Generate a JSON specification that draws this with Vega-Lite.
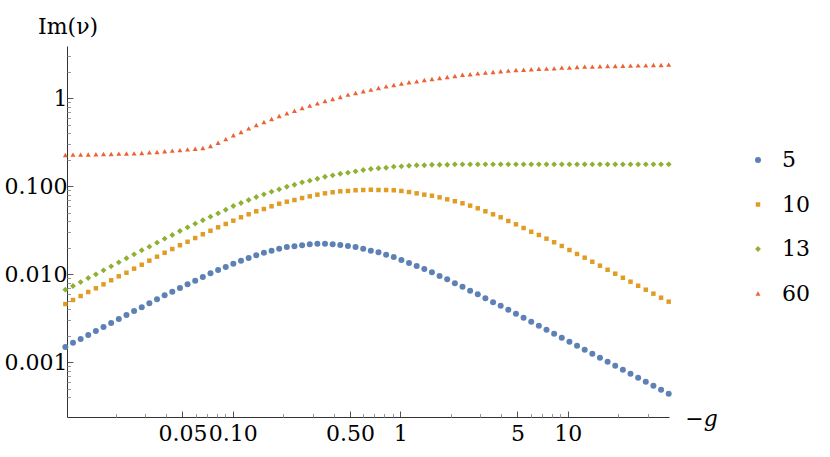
{
"$schema":"https://vega.github.io/schema/vega-lite/v6.json",
"width":602,"height":371,
"autosize":"none",
"padding":{"left":67,"top":46,"right":161,"bottom":40},
"background":"white",
"config":{"view":{"stroke":null},"font":"DejaVu Serif"},
"title":{"text":"Im(ν)","anchor":"start","frame":"group","dx":-29,"dy":28,"offset":18,"baseline":"alphabetic","fontSize":22,"fontWeight":"normal","color":"black","font":"DejaVu Serif"},
"datasets":{"pts":[
{"g":0.01,"n":"5","v":0.001493},{"g":0.01111,"n":"5","v":0.001671},{"g":0.01234,"n":"5","v":0.001841},{"g":0.0137,"n":"5","v":0.002042},{"g":0.01522,"n":"5","v":0.00227},{"g":0.0169,"n":"5","v":0.002518},{"g":0.01877,"n":"5","v":0.002799},{"g":0.02085,"n":"5","v":0.003105},{"g":0.02317,"n":"5","v":0.003443},{"g":0.02573,"n":"5","v":0.003828},
{"g":0.02858,"n":"5","v":0.004217},{"g":0.03174,"n":"5","v":0.004677},{"g":0.03526,"n":"5","v":0.0052},{"g":0.03916,"n":"5","v":0.005768},{"g":0.0435,"n":"5","v":0.006339},{"g":0.04831,"n":"5","v":0.006982},{"g":0.05366,"n":"5","v":0.007691},{"g":0.05961,"n":"5","v":0.008453},{"g":0.06621,"n":"5","v":0.009311},{"g":0.07354,"n":"5","v":0.01026},
{"g":0.08166,"n":"5","v":0.01119},{"g":0.09071,"n":"5","v":0.01211},{"g":0.1007,"n":"5","v":0.01318},{"g":0.1119,"n":"5","v":0.01429},{"g":0.1243,"n":"5","v":0.01531},{"g":0.138,"n":"5","v":0.01644},{"g":0.1533,"n":"5","v":0.01758},{"g":0.1703,"n":"5","v":0.01854},{"g":0.1891,"n":"5","v":0.01954},{"g":0.2101,"n":"5","v":0.02042},
{"g":0.2333,"n":"5","v":0.0208},{"g":0.2592,"n":"5","v":0.02138},{"g":0.2879,"n":"5","v":0.02193},{"g":0.3197,"n":"5","v":0.02228},{"g":0.3551,"n":"5","v":0.02228},{"g":0.3945,"n":"5","v":0.02193},{"g":0.4381,"n":"5","v":0.02153},{"g":0.4866,"n":"5","v":0.02099},{"g":0.5405,"n":"5","v":0.02042},{"g":0.6004,"n":"5","v":0.01954},
{"g":0.6668,"n":"5","v":0.01854},{"g":0.7407,"n":"5","v":0.01778},{"g":0.8227,"n":"5","v":0.01671},{"g":0.9137,"n":"5","v":0.01574},{"g":1.0148,"n":"5","v":0.01452},{"g":1.1272,"n":"5","v":0.01343},{"g":1.252,"n":"5","v":0.01242},{"g":1.3906,"n":"5","v":0.01148},{"g":1.5446,"n":"5","v":0.01054},{"g":1.7156,"n":"5","v":0.009572},
{"g":1.9055,"n":"5","v":0.00877},{"g":2.1165,"n":"5","v":0.007907},{"g":2.3507,"n":"5","v":0.007228},{"g":2.611,"n":"5","v":0.006516},{"g":2.9,"n":"5","v":0.005929},{"g":3.2211,"n":"5","v":0.005333},{"g":3.5777,"n":"5","v":0.004808},{"g":3.9738,"n":"5","v":0.004395},{"g":4.4137,"n":"5","v":0.003963},{"g":4.9023,"n":"5","v":0.003565},
{"g":5.445,"n":"5","v":0.003214},{"g":6.0478,"n":"5","v":0.002891},{"g":6.7173,"n":"5","v":0.002606},{"g":7.4609,"n":"5","v":0.002344},{"g":8.287,"n":"5","v":0.002113},{"g":9.2045,"n":"5","v":0.001905},{"g":10.224,"n":"5","v":0.001714},{"g":11.355,"n":"5","v":0.001545},{"g":12.612,"n":"5","v":0.00139},{"g":14.009,"n":"5","v":0.001253},
{"g":15.56,"n":"5","v":0.001127},{"g":17.282,"n":"5","v":0.001016},{"g":19.195,"n":"5","v":0.0009141},{"g":21.32,"n":"5","v":0.0008241},{"g":23.681,"n":"5","v":0.0007413},{"g":26.303,"n":"5","v":0.0006683},{"g":29.215,"n":"5","v":0.0006026},{"g":32.449,"n":"5","v":0.000542},{"g":36.042,"n":"5","v":0.0004887},{"g":40.032,"n":"5","v":0.0004395},
{"g":0.01,"n":"10","v":0.004592},{"g":0.01111,"n":"10","v":0.005105},{"g":0.01234,"n":"10","v":0.005662},{"g":0.0137,"n":"10","v":0.006295},{"g":0.01522,"n":"10","v":0.006934},{"g":0.0169,"n":"10","v":0.007691},{"g":0.01877,"n":"10","v":0.008551},{"g":0.02085,"n":"10","v":0.009484},{"g":0.02317,"n":"10","v":0.01042},{"g":0.02573,"n":"10","v":0.01159},
{"g":0.02858,"n":"10","v":0.01285},{"g":0.03174,"n":"10","v":0.01429},{"g":0.03526,"n":"10","v":0.01585},{"g":0.03916,"n":"10","v":0.01758},{"g":0.0435,"n":"10","v":0.01936},{"g":0.04831,"n":"10","v":0.02138},{"g":0.05366,"n":"10","v":0.02344},{"g":0.05961,"n":"10","v":0.02582},{"g":0.06621,"n":"10","v":0.02851},{"g":0.07354,"n":"10","v":0.03126},
{"g":0.08166,"n":"10","v":0.0342},{"g":0.09071,"n":"10","v":0.03733},{"g":0.1007,"n":"10","v":0.04064},{"g":0.1119,"n":"10","v":0.04446},{"g":0.1243,"n":"10","v":0.04808},{"g":0.138,"n":"10","v":0.052},{"g":0.1533,"n":"10","v":0.05521},{"g":0.1703,"n":"10","v":0.05929},{"g":0.1891,"n":"10","v":0.06339},{"g":0.2101,"n":"10","v":0.06683},
{"g":0.2333,"n":"10","v":0.06982},{"g":0.2592,"n":"10","v":0.07362},{"g":0.2879,"n":"10","v":0.07691},{"g":0.3197,"n":"10","v":0.08035},{"g":0.3551,"n":"10","v":0.08318},{"g":0.3945,"n":"10","v":0.08551},{"g":0.4381,"n":"10","v":0.0877},{"g":0.4866,"n":"10","v":0.08851},{"g":0.5405,"n":"10","v":0.09016},{"g":0.6004,"n":"10","v":0.09078},
{"g":0.6668,"n":"10","v":0.09141},{"g":0.7407,"n":"10","v":0.09078},{"g":0.8227,"n":"10","v":0.09078},{"g":0.9137,"n":"10","v":0.09016},{"g":1.0148,"n":"10","v":0.08851},{"g":1.1272,"n":"10","v":0.0861},{"g":1.252,"n":"10","v":0.08318},{"g":1.3906,"n":"10","v":0.08035},{"g":1.5446,"n":"10","v":0.07816},{"g":1.7156,"n":"10","v":0.07499},
{"g":1.9055,"n":"10","v":0.07112},{"g":2.1165,"n":"10","v":0.06761},{"g":2.3507,"n":"10","v":0.06412},{"g":2.611,"n":"10","v":0.06026},{"g":2.9,"n":"10","v":0.05623},{"g":3.2211,"n":"10","v":0.052},{"g":3.5777,"n":"10","v":0.04808},{"g":3.9738,"n":"10","v":0.04446},{"g":4.4137,"n":"10","v":0.04036},{"g":4.9023,"n":"10","v":0.03698},
{"g":5.445,"n":"10","v":0.03357},{"g":6.0478,"n":"10","v":0.03048},{"g":6.7173,"n":"10","v":0.02799},{"g":7.4609,"n":"10","v":0.02541},{"g":8.287,"n":"10","v":0.02312},{"g":9.2045,"n":"10","v":0.02099},{"g":10.224,"n":"10","v":0.01888},{"g":11.355,"n":"10","v":0.01702},{"g":12.612,"n":"10","v":0.01545},{"g":14.009,"n":"10","v":0.0139},
{"g":15.56,"n":"10","v":0.01253},{"g":17.282,"n":"10","v":0.01127},{"g":19.195,"n":"10","v":0.01016},{"g":21.32,"n":"10","v":0.009141},{"g":23.681,"n":"10","v":0.008241},{"g":26.303,"n":"10","v":0.007413},{"g":29.215,"n":"10","v":0.006683},{"g":32.449,"n":"10","v":0.006026},{"g":36.042,"n":"10","v":0.00542},{"g":40.032,"n":"10","v":0.004887},
{"g":0.01,"n":"13","v":0.006683},{"g":0.01111,"n":"13","v":0.007362},{"g":0.01234,"n":"13","v":0.008166},{"g":0.0137,"n":"13","v":0.009078},{"g":0.01522,"n":"13","v":0.01},{"g":0.0169,"n":"13","v":0.01109},{"g":0.01877,"n":"13","v":0.01233},{"g":0.02085,"n":"13","v":0.01368},{"g":0.02317,"n":"13","v":0.01521},{"g":0.02573,"n":"13","v":0.01687},
{"g":0.02858,"n":"13","v":0.01875},{"g":0.03174,"n":"13","v":0.02061},{"g":0.03526,"n":"13","v":0.02286},{"g":0.03916,"n":"13","v":0.02541},{"g":0.0435,"n":"13","v":0.02799},{"g":0.04831,"n":"13","v":0.03105},{"g":0.05366,"n":"13","v":0.0342},{"g":0.05961,"n":"13","v":0.03758},{"g":0.06621,"n":"13","v":0.04111},{"g":0.07354,"n":"13","v":0.04519},
{"g":0.08166,"n":"13","v":0.04932},{"g":0.09071,"n":"13","v":0.0542},{"g":0.1007,"n":"13","v":0.0597},{"g":0.1119,"n":"13","v":0.06457},{"g":0.1243,"n":"13","v":0.06982},{"g":0.138,"n":"13","v":0.07551},{"g":0.1533,"n":"13","v":0.0811},{"g":0.1703,"n":"13","v":0.0869},{"g":0.1891,"n":"13","v":0.09247},{"g":0.2101,"n":"13","v":0.09886},
{"g":0.2333,"n":"13","v":0.1042},{"g":0.2592,"n":"13","v":0.1109},{"g":0.2879,"n":"13","v":0.1159},{"g":0.3197,"n":"13","v":0.1219},{"g":0.3551,"n":"13","v":0.1285},{"g":0.3945,"n":"13","v":0.1334},{"g":0.4381,"n":"13","v":0.139},{"g":0.4866,"n":"13","v":0.1429},{"g":0.5405,"n":"13","v":0.1479},{"g":0.6004,"n":"13","v":0.1531},
{"g":0.6668,"n":"13","v":0.1574},{"g":0.7407,"n":"13","v":0.1603},{"g":0.8227,"n":"13","v":0.1626},{"g":0.9137,"n":"13","v":0.1671},{"g":1.0148,"n":"13","v":0.1687},{"g":1.1272,"n":"13","v":0.1714},{"g":1.252,"n":"13","v":0.1734},{"g":1.3906,"n":"13","v":0.1734},{"g":1.5446,"n":"13","v":0.1758},{"g":1.7156,"n":"13","v":0.1758},
{"g":1.9055,"n":"13","v":0.1758},{"g":2.1165,"n":"13","v":0.1778},{"g":2.3507,"n":"13","v":0.1778},{"g":2.611,"n":"13","v":0.1778},{"g":2.9,"n":"13","v":0.1778},{"g":3.2211,"n":"13","v":0.1778},{"g":3.5777,"n":"13","v":0.1778},{"g":3.9738,"n":"13","v":0.1778},{"g":4.4137,"n":"13","v":0.1778},{"g":4.9023,"n":"13","v":0.1778},
{"g":5.445,"n":"13","v":0.1778},{"g":6.0478,"n":"13","v":0.1778},{"g":6.7173,"n":"13","v":0.1778},{"g":7.4609,"n":"13","v":0.1778},{"g":8.287,"n":"13","v":0.1778},{"g":9.2045,"n":"13","v":0.1778},{"g":10.224,"n":"13","v":0.1778},{"g":11.355,"n":"13","v":0.1778},{"g":12.612,"n":"13","v":0.1778},{"g":14.009,"n":"13","v":0.1778},
{"g":15.56,"n":"13","v":0.1778},{"g":17.282,"n":"13","v":0.1778},{"g":19.195,"n":"13","v":0.1778},{"g":21.32,"n":"13","v":0.1778},{"g":23.681,"n":"13","v":0.1778},{"g":26.303,"n":"13","v":0.1778},{"g":29.215,"n":"13","v":0.1778},{"g":32.449,"n":"13","v":0.1778},{"g":36.042,"n":"13","v":0.1778},{"g":40.032,"n":"13","v":0.1778},
{"g":0.01,"n":"60","v":0.227},{"g":0.01111,"n":"60","v":0.2286},{"g":0.01234,"n":"60","v":0.2286},{"g":0.0137,"n":"60","v":0.2296},{"g":0.01522,"n":"60","v":0.2312},{"g":0.0169,"n":"60","v":0.2328},{"g":0.01877,"n":"60","v":0.2328},{"g":0.02085,"n":"60","v":0.235},{"g":0.02317,"n":"60","v":0.2361},{"g":0.02573,"n":"60","v":0.2371},
{"g":0.02858,"n":"60","v":0.2388},{"g":0.03174,"n":"60","v":0.2432},{"g":0.03526,"n":"60","v":0.2455},{"g":0.03916,"n":"60","v":0.25},{"g":0.0435,"n":"60","v":0.2541},{"g":0.04831,"n":"60","v":0.2582},{"g":0.05366,"n":"60","v":0.263},{"g":0.05961,"n":"60","v":0.2673},{"g":0.06621,"n":"60","v":0.2723},{"g":0.07354,"n":"60","v":0.2871},
{"g":0.08166,"n":"60","v":0.3126},{"g":0.09071,"n":"60","v":0.3443},{"g":0.1007,"n":"60","v":0.3802},{"g":0.1119,"n":"60","v":0.414},{"g":0.1243,"n":"60","v":0.456},{"g":0.138,"n":"60","v":0.4977},{"g":0.1533,"n":"60","v":0.5383},{"g":0.1703,"n":"60","v":0.5821},{"g":0.1891,"n":"60","v":0.6295},{"g":0.2101,"n":"60","v":0.6761},
{"g":0.2333,"n":"60","v":0.7228},{"g":0.2592,"n":"60","v":0.7762},{"g":0.2879,"n":"60","v":0.8241},{"g":0.3197,"n":"60","v":0.877},{"g":0.3551,"n":"60","v":0.9311},{"g":0.3945,"n":"60","v":0.9817},{"g":0.4381,"n":"60","v":1.035},{"g":0.4866,"n":"60","v":1.099},{"g":0.5405,"n":"60","v":1.148},{"g":0.6004,"n":"60","v":1.202},
{"g":0.6668,"n":"60","v":1.253},{"g":0.7407,"n":"60","v":1.309},{"g":0.8227,"n":"60","v":1.368},{"g":0.9137,"n":"60","v":1.416},{"g":1.0148,"n":"60","v":1.466},{"g":1.1272,"n":"60","v":1.521},{"g":1.252,"n":"60","v":1.56},{"g":1.3906,"n":"60","v":1.614},{"g":1.5446,"n":"60","v":1.656},{"g":1.7156,"n":"60","v":1.702},
{"g":1.9055,"n":"60","v":1.746},{"g":2.1165,"n":"60","v":1.791},{"g":2.3507,"n":"60","v":1.854},{"g":2.611,"n":"60","v":1.875},{"g":2.9,"n":"60","v":1.923},{"g":3.2211,"n":"60","v":1.954},{"g":3.5777,"n":"60","v":1.991},{"g":3.9738,"n":"60","v":2.028},{"g":4.4137,"n":"60","v":2.061},{"g":4.9023,"n":"60","v":2.099},
{"g":5.445,"n":"60","v":2.113},{"g":6.0478,"n":"60","v":2.138},{"g":6.7173,"n":"60","v":2.168},{"g":7.4609,"n":"60","v":2.173},{"g":8.287,"n":"60","v":2.193},{"g":9.2045,"n":"60","v":2.228},{"g":10.224,"n":"60","v":2.228},{"g":11.355,"n":"60","v":2.27},{"g":12.612,"n":"60","v":2.286},{"g":14.009,"n":"60","v":2.291},
{"g":15.56,"n":"60","v":2.312},{"g":17.282,"n":"60","v":2.328},{"g":19.195,"n":"60","v":2.328},{"g":21.32,"n":"60","v":2.344},{"g":23.681,"n":"60","v":2.35},{"g":26.303,"n":"60","v":2.371},{"g":29.215,"n":"60","v":2.371},{"g":32.449,"n":"60","v":2.388},{"g":36.042,"n":"60","v":2.388},{"g":40.032,"n":"60","v":2.41}
]},
"data":{"name":"pts"},
"resolve":{"axis":{"x":"independent","y":"independent"}},
"layer":[
{"mark":{"type":"point","filled":true,"opacity":1,"strokeWidth":0},
 "encoding":{
  "x":{"field":"g","type":"quantitative",
   "scale":{"type":"log","domain":[0.01023,40.2],"nice":false,"zero":false},
   "axis":{"orient":"bottom","values":[0.05,0.1,0.5,1,5,10],
     "labelExpr":"datum.value >= 1 ? format(datum.value, 'd') : format(datum.value, '.2f')",
     "grid":false,"tickSize":-6,"tickColor":"#555","domainColor":"#333","domainWidth":1,
     "labelFontSize":22,"labelColor":"black","labelPadding":12,"labelFlush":false,"labelOverlap":false,
     "title":"−g","titleFontSize":22,"titleFontWeight":"normal","titleFontStyle":"italic","titleColor":"black",
     "titleX":634,"titleY":8,"titleAlign":"center","titleBaseline":"alphabetic","titleAnchor":null}},
  "y":{"field":"v","type":"quantitative",
   "scale":{"type":"log","domain":[0.000239,3.93],"nice":false,"zero":false},
   "axis":{"orient":"left","values":[0.001,0.01,0.1,1],
     "labelExpr":"datum.value >= 1 ? '1' : format(datum.value, '.3f')",
     "grid":false,"tickSize":-6,"tickColor":"#555","domainColor":"#333","domainWidth":1,
     "labelFontSize":22,"labelColor":"black","labelPadding":6,"labelFlush":false,"labelOverlap":false,
     "title":null}},
  "color":{"field":"n","type":"nominal",
   "scale":{"domain":["5","10","13","60"],"range":["#5E81B5","#E19C24","#8FB032","#EB6235"]},
   "legend":{"orient":"none","legendX":680,"legendY":103,"title":null,"labelFontSize":22,"labelColor":"black",
     "symbolSize":14,"labelOffset":13,"rowPadding":22.5,"padding":0}},
  "shape":{"field":"n","type":"nominal",
   "scale":{"domain":["5","10","13","60"],"range":["circle","square","diamond","triangle-up"]}},
  "size":{"field":"n","type":"nominal",
   "scale":{"type":"ordinal","domain":["5","10","13","60"],"range":[36,20,34,25]},"legend":null}
 }},
{"mark":{"type":"point","opacity":0},
 "encoding":{
  "x":{"field":"g","type":"quantitative",
   "axis":{"orient":"bottom","values":[0.02,0.03,0.04,0.06,0.07,0.08,0.09,0.2,0.3,0.4,0.6,0.7,0.8,0.9,2,3,4,6,7,8,9,20,30],
     "labels":false,"domain":false,"grid":false,"tickSize":-3.5,"tickColor":"#999","title":null}},
  "y":{"field":"v","type":"quantitative",
   "axis":{"orient":"left","values":[0.0004,0.0005,0.0006,0.0007,0.0008,0.0009,0.002,0.003,0.004,0.005,0.006,0.007,0.008,0.009,0.02,0.03,0.04,0.05,0.06,0.07,0.08,0.09,0.2,0.3,0.4,0.5,0.6,0.7,0.8,0.9,2,3],
     "labels":false,"domain":false,"grid":false,"tickSize":-3.5,"tickColor":"#999","title":null}}
 }}
]
}
